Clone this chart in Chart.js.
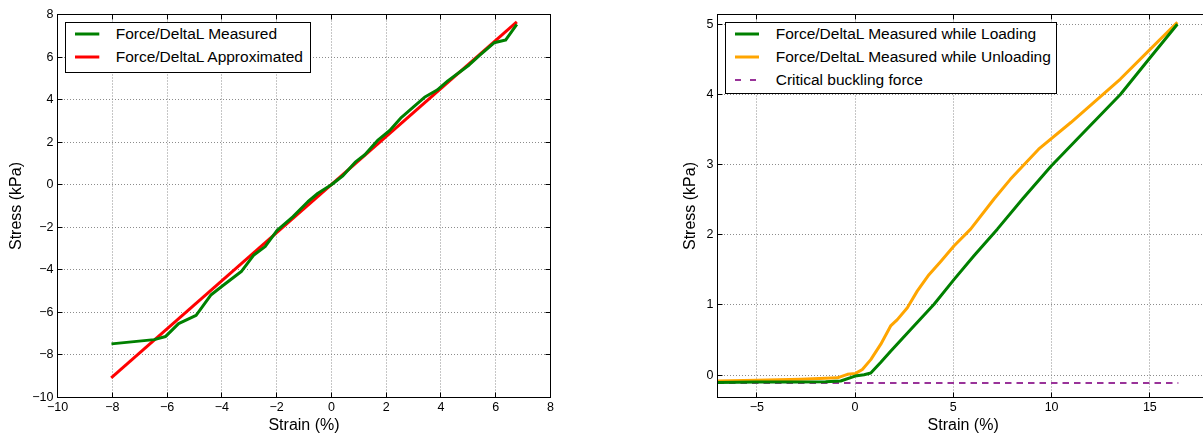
<!DOCTYPE html>
<html>
<head>
<meta charset="utf-8">
<script src="https://cdn.jsdelivr.net/npm/chart.js@4/dist/chart.umd.min.js"></script>
<style>
  html, body { margin:0; padding:0; width:1203px; height:437px; overflow:hidden; background:#fff; }
  canvas { position:absolute; top:0; }
  .legend { position:absolute; background:#fff; border:1px solid #000; box-sizing:border-box; z-index:5;
            font-family:"Liberation Sans", Arial, Helvetica, sans-serif; font-size:15.5px; color:#000; }
  .legend .txt { position:absolute; white-space:nowrap; line-height:18px; }
  .legend svg { position:absolute; overflow:visible; }
</style>
</head>
<body>
<canvas id="left" width="560" height="437" style="left:0;width:560px;height:437px"></canvas>
<canvas id="right" width="580" height="437" style="left:640px;width:580px;height:437px"></canvas>
<script>
// ---------------- Left panel data ----------------
const measuredStrain = [-8.03, -6.47, -6.05, -5.58, -4.94, -4.39, -3.97, -3.29, -2.83, -2.42, -1.99, -1.40, -0.86, -0.49, 0.00, 0.42, 0.87, 1.22, 1.71, 2.13, 2.56, 3.01, 3.40, 3.86, 4.25, 4.70, 5.03, 5.42, 5.94, 6.36, 6.77];
const measuredStress = [-7.48, -7.28, -7.13, -6.53, -6.14, -5.17, -4.75, -4.08, -3.30, -2.91, -2.16, -1.50, -0.80, -0.40, 0.00, 0.42, 1.06, 1.41, 2.11, 2.55, 3.17, 3.67, 4.11, 4.45, 4.88, 5.31, 5.63, 6.09, 6.67, 6.80, 7.54];
const approxStrain = [-8.04, 6.77];
const approxStress = [-9.08, 7.65];
const leftXTicks = [-10, -8, -6, -4, -2, 0, 2, 4, 6, 8];
const leftYTicks = [-10, -8, -6, -4, -2, 0, 2, 4, 6, 8];

// ---------------- Right panel data ----------------
const loadStrain = [-7, -5, -3, -1.5, -0.73, 0.00, 0.46, 0.80, 1.30, 1.81, 2.83, 4.02, 5.03, 6.05, 7.24, 8.52, 9.98, 11.7, 13.5, 15.0, 16.4];
const loadStress = [-0.105, -0.100, -0.098, -0.095, -0.085, -0.015, 0.005, 0.03, 0.18, 0.34, 0.65, 1.01, 1.36, 1.70, 2.08, 2.51, 2.98, 3.48, 4.00, 4.52, 5.00];
const unloadStrain = [-7, -5, -2.76, -0.90, -0.39, 0.03, 0.37, 0.80, 1.31, 1.81, 2.15, 2.66, 3.17, 3.76, 4.36, 5.03, 5.88, 7.07, 7.90, 9.34, 10.98, 13.5, 15.0, 16.4];
const unloadStress = [-0.085, -0.075, -0.060, -0.040, 0.010, 0.024, 0.08, 0.22, 0.44, 0.70, 0.79, 0.96, 1.20, 1.43, 1.62, 1.84, 2.08, 2.51, 2.79, 3.22, 3.60, 4.22, 4.64, 5.03];
const bucklingStrain = [-7, 16.45];
const bucklingStress = [-0.115, -0.115];
const rightXTicks = [-5, 0, 5, 10, 15];
const rightYTicks = [0, 1, 2, 3, 4, 5];

// ---------------- helpers ----------------
const FONT = '"Liberation Sans", Arial, Helvetica, sans-serif';
Chart.defaults.font.family = FONT;
Chart.defaults.color = '#000';

const pts = (xs, ys) => xs.map((x, i) => ({ x: x, y: ys[i] }));
const fmt = v => String(v).replace('-', '\u2212');
const align = p => Math.round(p - 0.5) + 0.5;
const TICK_LEN = 5;

const framePlugin = {
  id: 'frame',
  afterDatasetsDraw(chart) {
    const { ctx, chartArea: a, scales: { x, y } } = chart;
    ctx.save();
    ctx.strokeStyle = '#000';
    ctx.lineWidth = 1;
    ctx.setLineDash([]);
    ctx.beginPath();
    x.ticks.forEach(t => {
      const px = align(x.getPixelForValue(t.value));
      if (px < a.left - 1 || px > a.right + 1) return;
      ctx.moveTo(px, a.bottom); ctx.lineTo(px, a.bottom - TICK_LEN);
      ctx.moveTo(px, a.top); ctx.lineTo(px, a.top + TICK_LEN);
    });
    y.ticks.forEach(t => {
      const py = align(y.getPixelForValue(t.value));
      if (py < a.top - 1 || py > a.bottom + 1) return;
      ctx.moveTo(a.left, py); ctx.lineTo(a.left + TICK_LEN, py);
      ctx.moveTo(a.right, py); ctx.lineTo(a.right - TICK_LEN, py);
    });
    ctx.stroke();
    ctx.strokeRect(a.left, a.top, a.right - a.left, a.bottom - a.top);
    ctx.restore();
  }
};

function panel(id, datasets, ax) {
  return new Chart(document.getElementById(id), {
    type: 'line',
    data: { datasets: datasets },
    plugins: [framePlugin],
    options: {
      responsive: false,
      animation: false,
      devicePixelRatio: 1,
      layout: { padding: ax.padding },
      plugins: { legend: { display: false }, tooltip: { enabled: false } },
      elements: {
        point: { radius: 0, hoverRadius: 0 },
        line: { tension: 0, borderCapStyle: 'butt', borderJoinStyle: 'round' }
      },
      scales: {
        x: {
          type: 'linear', min: ax.xMin, max: ax.xMax,
          afterBuildTicks: s => { s.ticks = ax.xTicks.map(v => ({ value: v })); },
          afterFit: s => { s.height = ax.xHeight; },
          ticks: { autoSkip: false, maxRotation: 0, padding: 3, color: '#000', font: { size: 12.5 }, callback: fmt },
          grid: { color: '#8c8c8c', lineWidth: 1, drawTicks: false },
          border: { display: false, dash: [1, 2] },
          title: { display: true, text: ax.xTitle, color: '#000', font: { size: 16 }, padding: { top: 0, bottom: ax.xTitlePad } }
        },
        y: {
          type: 'linear', min: ax.yMin, max: ax.yMax,
          afterBuildTicks: s => { s.ticks = ax.yTicks.map(v => ({ value: v })); },
          afterFit: s => { s.width = ax.yWidth; },
          ticks: { autoSkip: false, padding: 4, color: '#000', font: { size: 12.5 }, callback: fmt },
          grid: { color: '#8c8c8c', lineWidth: 1, drawTicks: false },
          border: { display: false, dash: [1, 2] },
          title: { display: true, text: ax.yTitle, color: '#000', font: { size: 16 }, padding: { top: ax.yTitlePad, bottom: 0 } }
        }
      }
    }
  });
}

function buildLegend(chart, box, rows, sx1, sx2, textX) {
  const div = document.createElement('div');
  div.className = 'legend';
  Object.assign(div.style, { left: box.x + 'px', top: box.y + 'px', width: box.w + 'px', height: box.h + 'px' });
  const ox = box.x + 1, oy = box.y + 1;
  const NS = 'http://www.w3.org/2000/svg';
  chart.data.datasets.forEach((ds, i) => {
    const cy = rows[i] - oy;
    const svg = document.createElementNS(NS, 'svg');
    svg.setAttribute('width', '40'); svg.setAttribute('height', '10');
    svg.style.left = (sx1 - ox) + 'px';
    svg.style.top = (cy - 5) + 'px';
    const ln = document.createElementNS(NS, 'line');
    ln.setAttribute('x1', 0); ln.setAttribute('x2', sx2 - sx1);
    ln.setAttribute('y1', 5); ln.setAttribute('y2', 5);
    ln.setAttribute('stroke', ds.borderColor);
    ln.setAttribute('stroke-width', ds.borderDash ? 2 : 3);
    if (ds.borderDash) ln.setAttribute('stroke-dasharray', '6 9');
    svg.appendChild(ln);
    div.appendChild(svg);
    const t = document.createElement('div');
    t.className = 'txt';
    t.textContent = ds.label;
    t.style.left = (textX - ox) + 'px';
    t.style.top = (cy - 9) + 'px';
    div.appendChild(t);
  });
  document.body.appendChild(div);
}

// ---------------- Left chart ----------------
const leftChart = panel('left', [
  { label: 'Force/DeltaL Measured', data: pts(measuredStrain, measuredStress), borderColor: '#008000', borderWidth: 3, fill: false },
  { label: 'Force/DeltaL Approximated', data: pts(approxStrain, approxStress), borderColor: '#ff0000', borderWidth: 3, fill: false }
], {
  padding: { top: 14.5, right: 9.5, bottom: 0, left: 0 },
  xMin: -10, xMax: 8, yMin: -10, yMax: 8,
  xTicks: leftXTicks, yTicks: leftYTicks,
  xHeight: 39.5, yWidth: 57.5,
  xTitle: 'Strain (%)', yTitle: 'Stress (kPa)',
  xTitlePad: 1.4, yTitlePad: 7.4
});

// ---------------- Right chart ----------------
const rightChart = panel('right', [
  { label: 'Force/DeltaL Measured while Loading', data: pts(loadStrain, loadStress), borderColor: '#008000', borderWidth: 3, fill: false },
  { label: 'Force/DeltaL Measured while Unloading', data: pts(unloadStrain, unloadStress), borderColor: '#ffa500', borderWidth: 3, fill: false },
  { label: 'Critical buckling force', data: pts(bucklingStrain, bucklingStress), borderColor: '#993399', borderWidth: 2, borderDash: [6.5, 5], fill: false }
], {
  padding: { top: 14.5, right: 11.2, bottom: 0, left: 0 },
  xMin: -7, xMax: 18, yMin: -0.32, yMax: 5.14,
  xTicks: rightXTicks, yTicks: rightYTicks,
  xHeight: 39.5, yWidth: 77.5,
  xTitle: 'Strain (%)', yTitle: 'Stress (kPa)',
  xTitlePad: 1.4, yTitlePad: 41.4
});

buildLegend(leftChart, { x: 65, y: 22, w: 246, h: 51 }, [34.3, 56.7], 75, 99.3, 115.7);
buildLegend(rightChart, { x: 725, y: 22, w: 332, h: 72 }, [34.3, 57.1, 79.9], 735, 759, 775.7);
</script>
</body>
</html>
